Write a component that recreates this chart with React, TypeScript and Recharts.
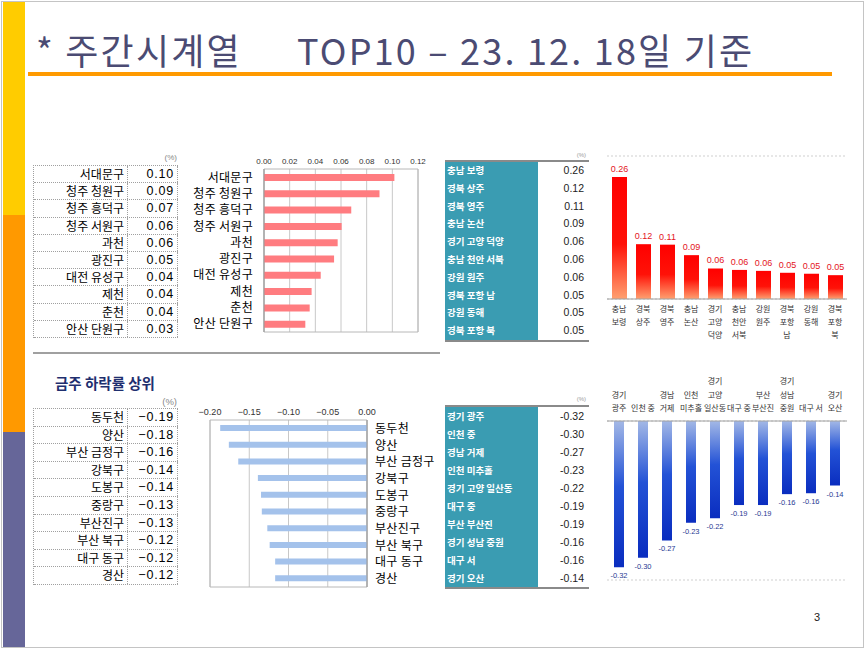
import React from 'react';
import { BarChart, Bar, XAxis, YAxis, CartesianGrid, LabelList, ReferenceArea } from 'recharts';

const KR = '"Noto Sans CJK KR", "Noto Sans", sans-serif';
const AR = '"Liberation Sans", Arial, sans-serif';
const NR = '"Liberation Sans Narrow", "Liberation Sans", Arial, sans-serif';

// ---- Weekly rise: districts (left table + pink bar chart)
const riseDistricts = ['서대문구', '청주 청원구', '청주 흥덕구', '청주 서원구', '과천', '광진구', '대전 유성구', '제천', '춘천', '안산 단원구'];
const riseDistrictTable = [0.10, 0.09, 0.07, 0.06, 0.06, 0.05, 0.04, 0.04, 0.04, 0.03];
const riseDistrictBars = [0.1016, 0.090, 0.068, 0.0605, 0.0574, 0.0546, 0.0442, 0.0371, 0.0356, 0.0322];
const riseDistrictTicks = [0, 0.02, 0.04, 0.06, 0.08, 0.10, 0.12];

// ---- Weekly fall: districts
const fallDistricts = ['동두천', '양산', '부산 금정구', '강북구', '도봉구', '중랑구', '부산진구', '부산 북구', '대구 동구', '경산'];
const fallDistrictTable = [-0.19, -0.18, -0.16, -0.14, -0.14, -0.13, -0.13, -0.12, -0.12, -0.12];
const fallDistrictBars = [-0.187, -0.176, -0.164, -0.139, -0.135, -0.134, -0.127, -0.124, -0.117, -0.117];
const fallDistrictTicks = [-0.2, -0.15, -0.1, -0.05, 0];

// ---- Rise: regions (teal table + red column chart)
const riseRegions = ['충남 보령', '경북 상주', '경북 영주', '충남 논산', '경기 고양 덕양', '충남 천안 서북', '강원 원주', '경북 포항 남', '강원 동해', '경북 포항 북'];
const riseRegionAxis = ['충남\n보령', '경북\n상주', '경북\n영주', '충남\n논산', '경기\n고양\n덕양', '충남\n천안\n서북', '강원\n원주', '경북\n포항\n남', '강원\n동해', '경북\n포항\n북'];
const riseRegionValues = [0.26, 0.12, 0.11, 0.09, 0.06, 0.06, 0.06, 0.05, 0.05, 0.05];
const riseRegionBars = [0.256, 0.115, 0.114, 0.092, 0.064, 0.061, 0.059, 0.055, 0.053, 0.050];
const riseRegionTicks = [0, 0.05, 0.1, 0.15, 0.2, 0.25, 0.3];

// ---- Fall: regions (teal table + blue column chart)
const fallRegions = ['경기 광주', '인천 중', '경남 거제', '인천 미추홀', '경기 고양 일산동', '대구 중', '부산 부산진', '경기 성남 중원', '대구 서', '경기 오산'];
const fallRegionAxis = ['경기\n광주', '인천 중', '경남\n거제', '인천\n미추홀', '경기\n고양\n일산동', '대구 중', '부산\n부산진', '경기\n성남\n중원', '대구 서', '경기\n오산'];
const fallRegionValues = [-0.32, -0.30, -0.27, -0.23, -0.22, -0.19, -0.19, -0.16, -0.16, -0.14];
const fallRegionBars = [-0.322, -0.301, -0.263, -0.224, -0.214, -0.185, -0.185, -0.161, -0.159, -0.142];
const fallRegionTicks = [-0.35, -0.3, -0.25, -0.2, -0.15, -0.1, -0.05, 0];

const topLeftData = riseDistricts.map((name, i) => ({ name, value: riseDistrictBars[i] }));
const bottomLeftData = fallDistricts.map((name, i) => ({ name, value: fallDistrictBars[i] }));
const topRightData = riseRegionAxis.map((axisLabel, i) => ({ axisLabel, value: riseRegionBars[i], label: riseRegionValues[i].toFixed(2) }));
const bottomRightData = fallRegionAxis.map((axisLabel, i) => ({ axisLabel, value: fallRegionBars[i], label: fallRegionValues[i].toFixed(2) }));

const fmtNum = (v: number) => (v < 0 ? '−' + Math.abs(v).toFixed(2) : v.toFixed(2));

function DottedTable({ left, top, rowH, names, values }: any) {
  const b = '1px dotted #a0a0a0';
  return (
    <div style={{ position: 'absolute', left, top, width: 144, borderTop: b, borderLeft: b }}>
      {names.map((n: string, i: number) => (
        <div key={n} style={{ display: 'flex', height: rowH, boxSizing: 'border-box', borderBottom: b }}>
          <div style={{ width: 94, boxSizing: 'border-box', borderRight: b, textAlign: 'right', paddingRight: 3, fontFamily: KR, fontSize: 12, lineHeight: rowH - 1 + 'px', color: '#000', whiteSpace: 'nowrap' }}>{n}</div>
          <div style={{ flex: 1, boxSizing: 'border-box', borderRight: b, textAlign: 'right', paddingRight: 3, fontFamily: AR, fontSize: 12.5, letterSpacing: 0.8, lineHeight: rowH - 1 + 'px', color: '#000', whiteSpace: 'nowrap' }}>{fmtNum(values[i])}</div>
        </div>
      ))}
    </div>
  );
}

function TealTable({ left, top, rowH, names, values }: any) {
  return (
    <div style={{ position: 'absolute', left, top, width: 144, borderTop: '2px solid #8a8a8a', borderBottom: '2px solid #8a8a8a' }}>
      {names.map((n: string, i: number) => (
        <div key={n} style={{ display: 'flex', height: rowH }}>
          <div style={{ width: 93, background: '#3a9cb2', color: '#fff', fontWeight: 700, fontFamily: KR, fontSize: 9.5, lineHeight: rowH + 'px', paddingLeft: 2, boxSizing: 'border-box', whiteSpace: 'nowrap' }}>{n}</div>
          <div style={{ flex: 1, textAlign: 'right', paddingRight: 5, fontFamily: NR, fontSize: 10.5, lineHeight: rowH + 'px', color: '#222' }}>{values[i].toFixed(2)}</div>
        </div>
      ))}
    </div>
  );
}

const leftCatTick = (p: any) => (
  <text x={p.x} y={p.y} dy={4.5} textAnchor="end" fontSize={12} fill="#000" fontFamily={KR} letterSpacing={0.3}>{p.payload.value}</text>
);
const rightCatTick = (p: any) => (
  <text x={p.x} y={p.y} dy={4.5} textAnchor="start" fontSize={12} fill="#000" fontFamily={KR} letterSpacing={0.3}>{p.payload.value}</text>
);

const riseTick = (p: any) => {
  const lines = String(p.payload.value).split('\n');
  return (
    <text x={p.x} y={p.y} textAnchor="middle" fontSize={8} fill="#333" fontFamily={KR}>
      {lines.map((l, i) => (
        <tspan key={i} x={p.x} dy={i === 0 ? 13 : 13.2}>{l}</tspan>
      ))}
    </text>
  );
};

const fallTick = (p: any) => {
  const lines = String(p.payload.value).split('\n');
  const first = -10 - (lines.length - 1) * 13.5;
  return (
    <text x={p.x} y={p.y} textAnchor="middle" fontSize={8} fill="#333" fontFamily={KR}>
      {lines.map((l, i) => (
        <tspan key={i} x={p.x} dy={i === 0 ? first : 13.5}>{l}</tspan>
      ))}
    </text>
  );
};

const box = (props: any) => {
  const vb = props.viewBox && props.viewBox.width !== undefined ? props.viewBox : props;
  return { x: Number(vb.x), y: Number(vb.y), w: Number(vb.width), h: Number(vb.height) };
};

const riseLabel = (props: any) => {
  const { x, y, w, h } = box(props);
  const top = Math.min(y, y + h);
  return (
    <text x={x + w / 2} y={top - 5} textAnchor="middle" fontSize={9} fill="#e4141c" fontFamily={AR}>{props.value}</text>
  );
};

const fallLabel = (props: any) => {
  const { x, y, w, h } = box(props);
  const bottom = Math.max(y, y + h);
  return (
    <text x={x + w / 2} y={bottom + 11} textAnchor="middle" fontSize={7.5} fill="#1f3a93" fontFamily={AR}>{props.value}</text>
  );
};

export default function App() {
  return (
    <div style={{ position: 'absolute', left: 0, top: 0, width: 865, height: 649, background: '#fff', overflow: 'hidden' }}>
      <svg width={0} height={0} style={{ position: 'absolute' }}>
        <defs>
          <linearGradient id="riseGrad" x1="0" y1="0" x2="0" y2="1">
            <stop offset="0" stopColor="#ff0000" />
            <stop offset="0.55" stopColor="#ff1208" />
            <stop offset="1" stopColor="#ffa070" />
          </linearGradient>
          <linearGradient id="fallGrad" x1="0" y1="0" x2="0" y2="1">
            <stop offset="0" stopColor="#a3b8e6" />
            <stop offset="0.45" stopColor="#2352d6" />
            <stop offset="1" stopColor="#0a2dbf" />
          </linearGradient>
        </defs>
      </svg>

      {/* slide frame & stripe */}
      <div style={{ position: 'absolute', left: 1, top: 1, width: 861, height: 645, border: '1px solid #c4c4c4' }} />
      <div style={{ position: 'absolute', left: 3, top: 2, width: 22, height: 213, background: '#ffcc00' }} />
      <div style={{ position: 'absolute', left: 3, top: 215, width: 22, height: 217, background: '#ff9900' }} />
      <div style={{ position: 'absolute', left: 3, top: 432, width: 22, height: 215, background: '#666699' }} />

      {/* title */}
      <div style={{ position: 'absolute', left: 36, top: 27, fontFamily: KR, fontSize: 36, lineHeight: '44px', letterSpacing: 2.2, color: '#4b4b73', whiteSpace: 'nowrap' }}>* 주간시계열</div>
      <div style={{ position: 'absolute', left: 297, top: 27, fontFamily: KR, fontSize: 36, lineHeight: '44px', letterSpacing: 2.2, color: '#4b4b73', whiteSpace: 'nowrap' }}>TOP10 – 23. 12. 18일 기준</div>
      <div style={{ position: 'absolute', left: 28, top: 72, width: 804, height: 4, background: 'linear-gradient(90deg, #ff9a00, #ff9900)' }} />

      {/* top-left table */}
      <div style={{ position: 'absolute', left: 150, top: 153, width: 27, textAlign: 'right', fontFamily: AR, fontSize: 8, color: '#888' }}>(%)</div>
      <DottedTable left={33} top={165} rowH={17.2} names={riseDistricts} values={riseDistrictTable} />

      {/* top-left bar chart */}
      <div style={{ position: 'absolute', left: 185, top: 145 }}>
        <BarChart width={250} height={195} data={topLeftData} layout="vertical" margin={{ top: 4, right: 17, bottom: 8, left: 0 }}>
          <CartesianGrid horizontal={false} stroke="#c8c8c8" />
          <XAxis type="number" orientation="top" domain={[0, 0.12]} ticks={riseDistrictTicks} height={20} interval={0}
            tickFormatter={(v: number) => v.toFixed(2)} axisLine={false} tickLine={false} tickSize={0} tickMargin={5}
            tick={{ fontSize: 8, fill: '#333', fontFamily: AR }} />
          <YAxis type="category" dataKey="name" width={79} interval={0} axisLine={{ stroke: '#999' }} tickLine={false}
            tickSize={0} tickMargin={11} tick={leftCatTick} />
          <ReferenceArea x1={0} x2={0.12} fill="none" stroke="#b8b8b8" ifOverflow="visible" />
          <Bar dataKey="value" fill="#ff7c80" barSize={7} isAnimationActive={false} />
        </BarChart>
      </div>

      {/* separator */}
      <div style={{ position: 'absolute', left: 33, top: 352, width: 407, height: 2, background: '#a0a0a0' }} />

      {/* top-middle teal table */}
      <div style={{ position: 'absolute', left: 560, top: 152, width: 26, textAlign: 'right', fontFamily: AR, fontSize: 6, color: '#999' }}>(%)</div>
      <TealTable left={445} top={160} rowH={17.8} names={riseRegions} values={riseRegionValues} />

      {/* top-right column chart */}
      <div style={{ position: 'absolute', left: 600, top: 145 }}>
        <BarChart width={250} height={200} data={topRightData} margin={{ top: 11, right: 3, bottom: 0, left: 7 }}>
          <CartesianGrid vertical={false} stroke="#cfcfcf" strokeDasharray="2 2" />
          <XAxis dataKey="axisLabel" height={46} interval={0} axisLine={{ stroke: '#a0a0a0' }} tickLine={false}
            tickSize={0} tickMargin={0} tick={riseTick} />
          <YAxis width={0} domain={[0, 0.3]} ticks={riseRegionTicks} axisLine={false} tickLine={false} tick={false} />
          <Bar dataKey="value" fill="url(#riseGrad)" barSize={15} isAnimationActive={false}>
            <LabelList dataKey="label" content={riseLabel} />
          </Bar>
        </BarChart>
      </div>

      {/* bottom-left heading & table */}
      <div style={{ position: 'absolute', left: 55, top: 373, fontFamily: KR, fontWeight: 700, fontSize: 14.5, lineHeight: '20px', color: '#1f2f6f', whiteSpace: 'nowrap' }}>금주 하락률 상위</div>
      <div style={{ position: 'absolute', left: 145, top: 396, width: 32, textAlign: 'right', fontFamily: AR, fontSize: 9.5, color: '#888' }}>(%)</div>
      <DottedTable left={33} top={408} rowH={17.6} names={fallDistricts} values={fallDistrictTable} />

      {/* bottom-left bar chart */}
      <div style={{ position: 'absolute', left: 185, top: 395 }}>
        <BarChart width={250} height={195} data={bottomLeftData} layout="vertical" margin={{ top: 5, right: 0, bottom: 3, left: 25 }}>
          <CartesianGrid horizontal={false} stroke="#c8c8c8" />
          <XAxis type="number" orientation="top" domain={[-0.2, 0]} ticks={fallDistrictTicks} height={20} interval={0}
            tickFormatter={(v: number) => fmtNum(v)} axisLine={false} tickLine={false} tickSize={0} tickMargin={5}
            tick={{ fontSize: 9, fill: '#333', fontFamily: AR }} />
          <YAxis type="category" dataKey="name" orientation="right" width={68} interval={0} axisLine={{ stroke: '#999' }}
            tickLine={false} tickSize={0} tickMargin={8} tick={rightCatTick} />
          <ReferenceArea x1={-0.2} x2={0} fill="none" stroke="#b8b8b8" ifOverflow="visible" />
          <Bar dataKey="value" fill="#a4c2eb" barSize={6} isAnimationActive={false} />
        </BarChart>
      </div>

      {/* bottom-middle teal table */}
      <div style={{ position: 'absolute', left: 560, top: 396, width: 26, textAlign: 'right', fontFamily: AR, fontSize: 6, color: '#999' }}>(%)</div>
      <TealTable left={445} top={405} rowH={18} names={fallRegions} values={fallRegionValues} />

      {/* bottom-right column chart */}
      <div style={{ position: 'absolute', left: 600, top: 365 }}>
        <BarChart width={250} height={220} data={bottomRightData} margin={{ top: 0, right: 3, bottom: 5, left: 7 }}>
          <CartesianGrid vertical={false} stroke="#cfcfcf" strokeDasharray="2 2" />
          <XAxis dataKey="axisLabel" orientation="top" height={56} interval={0} axisLine={{ stroke: '#a0a0a0' }}
            tickLine={false} tickSize={0} tickMargin={0} tick={fallTick} />
          <YAxis width={0} domain={[-0.35, 0]} ticks={fallRegionTicks} axisLine={false} tickLine={false} tick={false} />
          <Bar dataKey="value" fill="url(#fallGrad)" barSize={10} isAnimationActive={false}>
            <LabelList dataKey="label" content={fallLabel} />
          </Bar>
        </BarChart>
      </div>

      {/* page number */}
      <div style={{ position: 'absolute', left: 814, top: 611, fontFamily: AR, fontSize: 11, color: '#222' }}>3</div>
    </div>
  );
}
